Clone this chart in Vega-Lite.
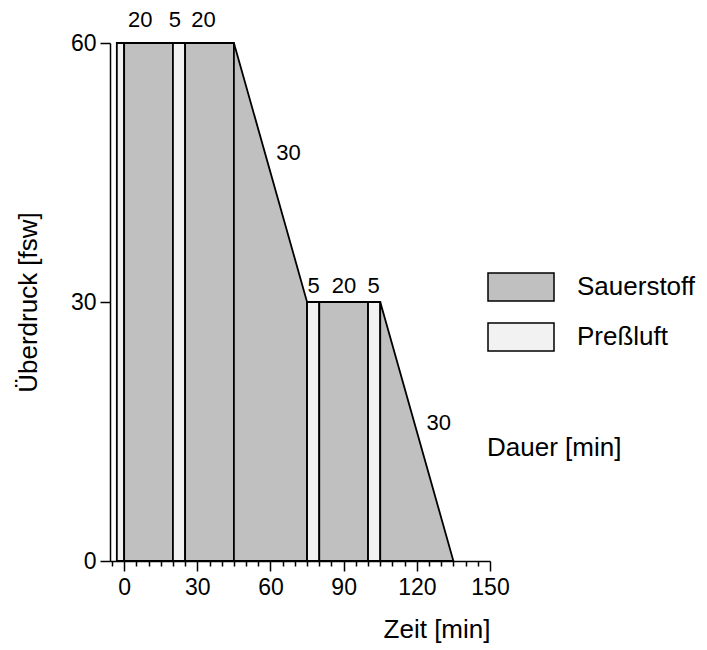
{
  "$schema": "https://vega.github.io/schema/vega-lite/v6.json",
  "width": 380,
  "height": 518,
  "autosize": {"type": "none"},
  "padding": {"left": 110, "top": 43, "right": 217, "bottom": 89},
  "background": "white",
  "config": {
    "view": {"stroke": null},
    "font": "Liberation Sans",
    "text": {"font": "Liberation Sans"}
  },
  "datasets": {
    "profile": [
      {"seg": "a", "gas": "Preßluft", "t": -3, "p": 60},
      {"seg": "a", "gas": "Preßluft", "t": 0, "p": 60},
      {"seg": "b", "gas": "Sauerstoff", "t": 0, "p": 60},
      {"seg": "b", "gas": "Sauerstoff", "t": 20, "p": 60},
      {"seg": "c", "gas": "Preßluft", "t": 20, "p": 60},
      {"seg": "c", "gas": "Preßluft", "t": 25, "p": 60},
      {"seg": "d", "gas": "Sauerstoff", "t": 25, "p": 60},
      {"seg": "d", "gas": "Sauerstoff", "t": 45, "p": 60},
      {"seg": "e", "gas": "Sauerstoff", "t": 45, "p": 60},
      {"seg": "e", "gas": "Sauerstoff", "t": 75, "p": 30},
      {"seg": "f", "gas": "Preßluft", "t": 75, "p": 30},
      {"seg": "f", "gas": "Preßluft", "t": 80, "p": 30},
      {"seg": "g", "gas": "Sauerstoff", "t": 80, "p": 30},
      {"seg": "g", "gas": "Sauerstoff", "t": 100, "p": 30},
      {"seg": "h", "gas": "Preßluft", "t": 100, "p": 30},
      {"seg": "h", "gas": "Preßluft", "t": 105, "p": 30},
      {"seg": "i", "gas": "Sauerstoff", "t": 105, "p": 30},
      {"seg": "i", "gas": "Sauerstoff", "t": 135, "p": 0}
    ],
    "labels": [
      {"t": 6.6, "p": 62.7, "label": "20"},
      {"t": 20.8, "p": 62.7, "label": "5"},
      {"t": 32.5, "p": 62.7, "label": "20"},
      {"t": 67.4, "p": 47.3, "label": "30"},
      {"t": 77.7, "p": 31.9, "label": "5"},
      {"t": 90.1, "p": 31.9, "label": "20"},
      {"t": 102.3, "p": 31.9, "label": "5"},
      {"t": 129, "p": 16, "label": "30"}
    ]
  },
  "layer": [
    {
      "data": {"name": "profile"},
      "mark": {"type": "area", "stroke": "black", "strokeWidth": 1.8},
      "encoding": {
        "x": {
          "field": "t", "type": "quantitative",
          "scale": {"domain": [-5.8, 150], "nice": false, "zero": false},
          "axis": {
            "values": [-5, 0, 5, 10, 15, 20, 25, 30, 35, 40, 45, 50, 55, 60, 65, 70, 75, 80, 85, 90, 95, 100, 105, 110, 115, 120, 125, 130, 135, 140, 145, 150],
            "tickCount": 100,
            "labelExpr": "datum.value % 30 === 0 ? datum.label : ''",
            "tickSize": {"condition": {"test": "datum.value % 30 === 0", "value": 10}, "value": 5},
            "title": "Zeit [min]",
            "titleAnchor": "end",
            "titleFontSize": 26,
            "titleFontWeight": "normal",
            "titleColor": "black",
            "titlePadding": 17,
            "labelFontSize": 23,
            "labelColor": "black",
            "labelPadding": 5,
            "labelFlush": false,
            "labelOverlap": false,
            "grid": false,
            "domainColor": "black",
            "domainWidth": 1.5,
            "tickColor": "black",
            "tickWidth": 1.5
          }
        },
        "y": {
          "field": "p", "type": "quantitative",
          "stack": null,
          "scale": {"domain": [0, 60], "nice": false},
          "axis": {
            "values": [0, 30, 60],
            "tickSize": 10,
            "title": "Überdruck [fsw]",
            "titleFontSize": 26,
            "titleFontWeight": "normal",
            "titleColor": "black",
            "titlePadding": 29,
            "labelFontSize": 23,
            "labelColor": "black",
            "labelPadding": 4,
            "labelFlush": false,
            "grid": false,
            "domainColor": "black",
            "domainWidth": 1.5,
            "tickColor": "black",
            "tickWidth": 1.5
          }
        },
        "y2": {"datum": 0},
        "color": {
          "field": "gas", "type": "nominal",
          "scale": {"domain": ["Sauerstoff", "Preßluft"], "range": ["#c0c0c0", "#f2f2f2"]},
          "legend": {
            "orient": "none",
            "legendX": 377,
            "legendY": 229,
            "title": "Dauer [min]",
            "titleOrient": "bottom",
            "titleAnchor": "start",
            "titleFontSize": 26,
            "titleFontWeight": "normal",
            "titleColor": "black",
            "titlePadding": 83,
            "labelFontSize": 26,
            "labelColor": "black",
            "labelOffset": 22,
            "symbolType": "M-1,-0.4242H1V0.4242H-1Z",
            "symbolSize": 4356,
            "symbolStrokeColor": "black",
            "symbolStrokeWidth": 1.5,
            "symbolOpacity": 1,
            "clipHeight": 30,
            "rowPadding": 20,
            "padding": 0
          }
        },
        "detail": {"field": "seg"}
      }
    },
    {
      "data": {"name": "labels"},
      "mark": {"type": "text", "fontSize": 22, "font": "Liberation Sans", "color": "black"},
      "encoding": {
        "x": {"field": "t", "type": "quantitative"},
        "y": {"field": "p", "type": "quantitative"},
        "text": {"field": "label"}
      }
    }
  ]
}
